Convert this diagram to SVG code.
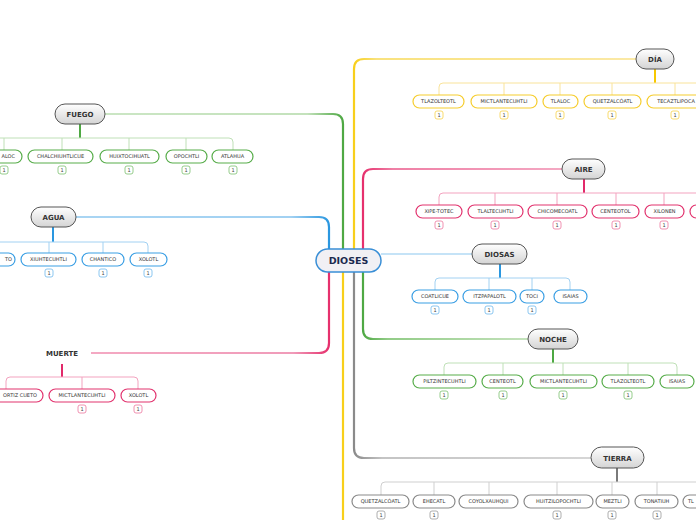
<svg xmlns="http://www.w3.org/2000/svg" width="696" height="520" viewBox="0 0 696 520">
<defs>
<linearGradient id="tg" x1="0" y1="0" x2="0" y2="1"><stop offset="0" stop-color="#ffffff"/><stop offset="1" stop-color="#d4d4d4"/></linearGradient>
<linearGradient id="gDia" gradientUnits="userSpaceOnUse" x1="354" y1="0" x2="636" y2="0"><stop offset="0" stop-color="#f8cf1a"/><stop offset="0.08" stop-color="#f9e27e"/><stop offset="1" stop-color="#fbe9a6"/></linearGradient>
<linearGradient id="gFuego" gradientUnits="userSpaceOnUse" x1="105" y1="0" x2="343" y2="0"><stop offset="0" stop-color="#cbe6c4"/><stop offset="0.85" stop-color="#c4e2bc"/><stop offset="1" stop-color="#4ea843"/></linearGradient>
<linearGradient id="gAire" gradientUnits="userSpaceOnUse" x1="363" y1="0" x2="562" y2="0"><stop offset="0" stop-color="#e6306d"/><stop offset="0.15" stop-color="#ef7fa5"/><stop offset="1" stop-color="#f4a9c3"/></linearGradient>
<linearGradient id="gAgua" gradientUnits="userSpaceOnUse" x1="76" y1="0" x2="329" y2="0"><stop offset="0" stop-color="#a9d5f3"/><stop offset="0.85" stop-color="#a2d1f2"/><stop offset="1" stop-color="#2a97e0"/></linearGradient>
<linearGradient id="gNoche" gradientUnits="userSpaceOnUse" x1="363" y1="0" x2="528" y2="0"><stop offset="0" stop-color="#4ea843"/><stop offset="0.15" stop-color="#92cc87"/><stop offset="1" stop-color="#c4e2bc"/></linearGradient>
<linearGradient id="gTierra" gradientUnits="userSpaceOnUse" x1="354" y1="0" x2="591" y2="0"><stop offset="0" stop-color="#8a8a8a"/><stop offset="0.12" stop-color="#c4c4c4"/><stop offset="1" stop-color="#d6d6d6"/></linearGradient>
<linearGradient id="gMuerte" gradientUnits="userSpaceOnUse" x1="91" y1="0" x2="329" y2="0"><stop offset="0" stop-color="#f4a9c3"/><stop offset="0.85" stop-color="#f09bb9"/><stop offset="1" stop-color="#e6306d"/></linearGradient>
</defs>
<style>
.main{fill:none;stroke-width:2.2}
.stem{fill:none;stroke-width:2}
.bar{fill:none;stroke-width:1}
.topic rect{fill:url(#tg);stroke:#555;stroke-width:1}
.topic text,.lbl{font-family:"DejaVu Sans",Verdana,sans-serif;font-weight:bold;font-size:7px;fill:#333;text-anchor:middle}
.leaf rect{fill:#fff;stroke-width:1.2}
.leaf text{font-family:"DejaVu Sans",Verdana,sans-serif;font-size:5px;fill:#333;text-anchor:middle}
.badge rect{fill:#fff;stroke-width:0.8}
.badge text{font-family:"DejaVu Sans",Verdana,sans-serif;font-size:5px;fill:#444;text-anchor:middle}
.y .leaf rect{stroke:#f6cd2e}.y .badge rect{stroke:#f6d24a}
.g .leaf rect{stroke:#58ad4b}.g .badge rect{stroke:#7cc070}
.p .leaf rect{stroke:#e2346f}.p .badge rect{stroke:#ec77a0}
.b .leaf rect{stroke:#3b9fe4}.b .badge rect{stroke:#6fb9ec}
.k .leaf rect{stroke:#8a8a8a}.k .badge rect{stroke:#9a9a9a}
</style>
<rect width="696" height="520" fill="#fff"/>
<g id="connectors">
<path class="main" stroke="url(#gDia)" d="M354,249 V69 Q354,59 364,59 H636"/>
<path class="main" stroke="url(#gFuego)" d="M105,114 H333 Q343,114 343,124 V249"/>
<path class="main" stroke="url(#gAire)" d="M363,249 V179 Q363,169 373,169 H562"/>
<path class="main" stroke="url(#gAgua)" d="M76,217 H319 Q329,217 329,227 V249"/>
<path fill="none" stroke="#8cc8f0" stroke-width="1.2" d="M381,254 H472"/>
<path class="main" stroke="url(#gNoche)" d="M363,272 V329 Q363,339 373,339 H528"/>
<path class="main" stroke="url(#gTierra)" d="M354,272 V448 Q354,458 364,458 H591"/>
<path class="main" stroke="url(#gMuerte)" d="M91,353 H319 Q329,353 329,343 V272"/>
<path class="main" stroke="#f8cf1a" d="M343,272 V520"/>
<path class="stem" stroke="#f7c800" d="M655,69 V83"/>
<path class="bar" stroke="#f9e39a" d="M439,95 V87 Q439,83 443,83 H700 M504,83 V95 M560,83 V95 M612,83 V95 M675,83 V95"/>
<path class="stem" stroke="#e2296a" d="M584,179 V193"/>
<path class="bar" stroke="#f3a3bf" d="M439,205 V197 Q439,193 443,193 H700 M495,193 V205 M557,193 V205 M616,193 V205 M664,193 V205"/>
<path class="stem" stroke="#2a97e0" d="M500,264 V278"/>
<path class="bar" stroke="#a2d1f2" d="M435,290 V282 Q435,278 439,278 H566 Q570,278 570,282 V290 M489,278 V290 M532,278 V290"/>
<path class="stem" stroke="#4ea843" d="M553,349 V363"/>
<path class="bar" stroke="#bfe0b7" d="M444,375 V367 Q444,363 448,363 H673 Q677,363 677,367 V375 M503,363 V375 M563,363 V375 M628,363 V375"/>
<path class="stem" stroke="#7a7a7a" d="M617,468 V482"/>
<path class="bar" stroke="#cfcfcf" d="M381,495 V486 Q381,482 385,482 H700 M434,482 V495 M489,482 V495 M557,482 V495 M612,482 V495 M657,482 V495 M705,482 V495"/>
<path class="stem" stroke="#4ea843" d="M80,124 V138"/>
<path class="bar" stroke="#bfe0b7" d="M-10,138 H229 Q233,138 233,142 V150 M4,138 V150 M62,138 V150 M129,138 V150 M186,138 V150"/>
<path class="stem" stroke="#2a97e0" d="M53,227 V242"/>
<path class="bar" stroke="#a2d1f2" d="M-10,242 H144 Q148,242 148,246 V253 M-5,242 V253 M49,242 V253 M103,242 V253"/>
<path class="stem" stroke="#e2296a" d="M62,364 V377"/>
<path class="bar" stroke="#f3a3bf" d="M6,389 V381 Q6,377 10,377 H134 Q138,377 138,381 V389 M82,377 V389"/>
</g>

<g id="dioses">
<rect x="316" y="249" width="65" height="23" rx="11.5" fill="#f1f0f4" stroke="#3a8fd6" stroke-width="1.5"/>
<text x="348.5" y="264" font-family="DejaVu Sans,Verdana,sans-serif" font-weight="bold" font-size="9.5" fill="#1b2a4f" text-anchor="middle">DIOSES</text>
</g>

<g id="dia" class="y">
<g class="topic"><rect x="636" y="49" width="38" height="20" rx="10"/><text x="655" y="61.5">DÍA</text></g>
<g class="leaf"><rect x="413" y="95" width="51" height="13" rx="6.5"/><text x="438.5" y="103.3">TLAZOLTEOTL</text></g>
<g class="leaf"><rect x="471" y="95" width="66" height="13" rx="6.5"/><text x="504" y="103.3">MICTLANTECUHTLI</text></g>
<g class="leaf"><rect x="543" y="95" width="35" height="13" rx="6.5"/><text x="560.5" y="103.3">TLALOC</text></g>
<g class="leaf"><rect x="584" y="95" width="57" height="13" rx="6.5"/><text x="612.5" y="103.3">QUETZALCÓATL</text></g>
<g class="leaf"><rect x="647" y="95" width="58" height="13" rx="6.5"/><text x="676" y="103.3">TECAZTLIPOCA</text></g>
<g class="badge"><rect x="435" y="111" width="8" height="8" rx="2"/><text x="439" y="117">1</text></g>
<g class="badge"><rect x="500" y="111" width="8" height="8" rx="2"/><text x="504" y="117">1</text></g>
<g class="badge"><rect x="556" y="111" width="8" height="8" rx="2"/><text x="560" y="117">1</text></g>
<g class="badge"><rect x="608" y="111" width="8" height="8" rx="2"/><text x="612" y="117">1</text></g>
<g class="badge"><rect x="671" y="111" width="8" height="8" rx="2"/><text x="675" y="117">1</text></g>
</g>

<g id="aire" class="p">
<g class="topic"><rect x="562" y="159" width="43" height="20" rx="10"/><text x="583.5" y="171.5">AIRE</text></g>
<g class="leaf"><rect x="416" y="205" width="46" height="13" rx="6.5"/><text x="439" y="213.3">XIPE-TOTEC</text></g>
<g class="leaf"><rect x="468" y="205" width="55" height="13" rx="6.5"/><text x="495.5" y="213.3">TLALTECUHTLI</text></g>
<g class="leaf"><rect x="528" y="205" width="59" height="13" rx="6.5"/><text x="557.5" y="213.3">CHICOMECOATL</text></g>
<g class="leaf"><rect x="592" y="205" width="47" height="13" rx="6.5"/><text x="615.5" y="213.3">CENTEOTOL</text></g>
<g class="leaf"><rect x="645" y="205" width="39" height="13" rx="6.5"/><text x="664.5" y="213.3">XILONEN</text></g>
<g class="leaf"><rect x="690" y="205" width="50" height="13" rx="6.5"/></g>
<g class="badge"><rect x="435" y="221" width="8" height="8" rx="2"/><text x="439" y="227">1</text></g>
<g class="badge"><rect x="491" y="221" width="8" height="8" rx="2"/><text x="495" y="227">1</text></g>
<g class="badge"><rect x="553" y="221" width="8" height="8" rx="2"/><text x="557" y="227">1</text></g>
<g class="badge"><rect x="612" y="221" width="8" height="8" rx="2"/><text x="616" y="227">1</text></g>
<g class="badge"><rect x="660" y="221" width="8" height="8" rx="2"/><text x="664" y="227">1</text></g>
</g>

<g id="diosas" class="b">
<g class="topic"><rect x="472" y="244" width="55" height="20" rx="10"/><text x="499.5" y="256.5">DIOSAS</text></g>
<g class="leaf"><rect x="412" y="290" width="46" height="13" rx="6.5"/><text x="435" y="298.3">COATLICUE</text></g>
<g class="leaf"><rect x="463" y="290" width="53" height="13" rx="6.5"/><text x="489.5" y="298.3">ITZPAPALOTL</text></g>
<g class="leaf"><rect x="520" y="290" width="24" height="13" rx="6.5"/><text x="532" y="298.3">TOCI</text></g>
<g class="leaf"><rect x="554" y="290" width="33" height="13" rx="6.5"/><text x="570.5" y="298.3">ISAIAS</text></g>
<g class="badge"><rect x="431" y="306" width="8" height="8" rx="2"/><text x="435" y="312">1</text></g>
<g class="badge"><rect x="485" y="306" width="8" height="8" rx="2"/><text x="489" y="312">1</text></g>
<g class="badge"><rect x="528" y="306" width="8" height="8" rx="2"/><text x="532" y="312">1</text></g>
</g>

<g id="noche" class="g">
<g class="topic"><rect x="528" y="329" width="50" height="20" rx="10"/><text x="553" y="341.5">NOCHE</text></g>
<g class="leaf"><rect x="413" y="375" width="63" height="13" rx="6.5"/><text x="444.5" y="383.3">PILTZINTECUHTLI</text></g>
<g class="leaf"><rect x="482" y="375" width="41" height="13" rx="6.5"/><text x="502.5" y="383.3">CENTEOTL</text></g>
<g class="leaf"><rect x="530" y="375" width="67" height="13" rx="6.5"/><text x="563.5" y="383.3">MICTLANTECUHTLI</text></g>
<g class="leaf"><rect x="602" y="375" width="52" height="13" rx="6.5"/><text x="628" y="383.3">TLAZOLTEOTL</text></g>
<g class="leaf"><rect x="660" y="375" width="34" height="13" rx="6.5"/><text x="677" y="383.3">ISAIAS</text></g>
<g class="badge"><rect x="440" y="391" width="8" height="8" rx="2"/><text x="444" y="397">1</text></g>
<g class="badge"><rect x="499" y="391" width="8" height="8" rx="2"/><text x="503" y="397">1</text></g>
<g class="badge"><rect x="559" y="391" width="8" height="8" rx="2"/><text x="563" y="397">1</text></g>
<g class="badge"><rect x="624" y="391" width="8" height="8" rx="2"/><text x="628" y="397">1</text></g>
</g>

<g id="tierra" class="k">
<g class="topic"><rect x="591" y="447" width="53" height="21" rx="10.5"/><text x="617.5" y="460.5">TIERRA</text></g>
<g class="leaf"><rect x="352" y="495" width="57" height="13" rx="6.5"/><text x="380.5" y="503.3">QUETZALCÓATL</text></g>
<g class="leaf"><rect x="413" y="495" width="42" height="13" rx="6.5"/><text x="434" y="503.3">EHECATL</text></g>
<g class="leaf"><rect x="459" y="495" width="59" height="13" rx="6.5"/><text x="488.5" y="503.3">COYOLXAUHQUI</text></g>
<g class="leaf"><rect x="524" y="495" width="69" height="13" rx="6.5"/><text x="558.5" y="503.3">HUITZILOPOCHTLI</text></g>
<g class="leaf"><rect x="596" y="495" width="33" height="13" rx="6.5"/><text x="612.5" y="503.3">MEZTLI</text></g>
<g class="leaf"><rect x="635" y="495" width="43" height="13" rx="6.5"/><text x="656.5" y="503.3">TONATIUH</text></g>
<g class="leaf"><rect x="683" y="495" width="50" height="13" rx="6.5"/><text x="688" y="503.3" style="text-anchor:start">TL</text></g>
<g class="badge"><rect x="377" y="511" width="8" height="8" rx="2"/><text x="381" y="517">1</text></g>
<g class="badge"><rect x="430" y="511" width="8" height="8" rx="2"/><text x="434" y="517">1</text></g>
<g class="badge"><rect x="553" y="511" width="8" height="8" rx="2"/><text x="557" y="517">1</text></g>
<g class="badge"><rect x="608" y="511" width="8" height="8" rx="2"/><text x="612" y="517">1</text></g>
<g class="badge"><rect x="653" y="511" width="8" height="8" rx="2"/><text x="657" y="517">1</text></g>
</g>

<g id="fuego" class="g">
<g class="topic"><rect x="55" y="104" width="50" height="20" rx="10"/><text x="80" y="116.5">FUEGO</text></g>
<g class="leaf"><rect x="-14" y="150" width="36" height="13" rx="6.5"/><text x="15" y="158.3" style="text-anchor:end">ALOC</text></g>
<g class="leaf"><rect x="28" y="150" width="65" height="13" rx="6.5"/><text x="60.5" y="158.3">CHALCHIUHTLICUE</text></g>
<g class="leaf"><rect x="100" y="150" width="59" height="13" rx="6.5"/><text x="129.5" y="158.3">HUIXTOCIHUATL</text></g>
<g class="leaf"><rect x="166" y="150" width="41" height="13" rx="6.5"/><text x="186.5" y="158.3">OPOCHTLI</text></g>
<g class="leaf"><rect x="212" y="150" width="41" height="13" rx="6.5"/><text x="232.5" y="158.3">ATLAHUA</text></g>
<g class="badge"><rect x="0" y="166" width="8" height="8" rx="2"/><text x="4" y="172">1</text></g>
<g class="badge"><rect x="58" y="166" width="8" height="8" rx="2"/><text x="62" y="172">1</text></g>
<g class="badge"><rect x="125" y="166" width="8" height="8" rx="2"/><text x="129" y="172">1</text></g>
<g class="badge"><rect x="182" y="166" width="8" height="8" rx="2"/><text x="186" y="172">1</text></g>
<g class="badge"><rect x="229" y="166" width="8" height="8" rx="2"/><text x="233" y="172">1</text></g>
</g>

<g id="agua" class="b">
<g class="topic"><rect x="31" y="207" width="45" height="20" rx="10"/><text x="53.5" y="219.5">AGUA</text></g>
<g class="leaf"><rect x="-40" y="253" width="55" height="13" rx="6.5"/><text x="12" y="261.3" style="text-anchor:end">TO</text></g>
<g class="leaf"><rect x="21" y="253" width="55" height="13" rx="6.5"/><text x="48.5" y="261.3">XIUHTECUHTLI</text></g>
<g class="leaf"><rect x="82" y="253" width="42" height="13" rx="6.5"/><text x="103" y="261.3">CHANTICO</text></g>
<g class="leaf"><rect x="130" y="253" width="37" height="13" rx="6.5"/><text x="148.5" y="261.3">XOLOTL</text></g>
<g class="badge"><rect x="45" y="269" width="8" height="8" rx="2"/><text x="49" y="275">1</text></g>
<g class="badge"><rect x="99" y="269" width="8" height="8" rx="2"/><text x="103" y="275">1</text></g>
<g class="badge"><rect x="144" y="269" width="8" height="8" rx="2"/><text x="148" y="275">1</text></g>
</g>

<g id="muerte" class="p">
<text class="lbl" x="62" y="355.5">MUERTE</text>
<g class="leaf"><rect x="-31" y="389" width="74" height="13" rx="6.5"/><text x="37" y="397.3" style="text-anchor:end">ORTIZ CUETO</text></g>
<g class="leaf"><rect x="49" y="389" width="66" height="13" rx="6.5"/><text x="82" y="397.3">MICTLANTECUHTLI</text></g>
<g class="leaf"><rect x="121" y="389" width="35" height="13" rx="6.5"/><text x="138.5" y="397.3">XOLOTL</text></g>
<g class="badge"><rect x="78" y="405" width="8" height="8" rx="2"/><text x="82" y="411">1</text></g>
<g class="badge"><rect x="134" y="405" width="8" height="8" rx="2"/><text x="138" y="411">1</text></g>
</g>
</svg>
